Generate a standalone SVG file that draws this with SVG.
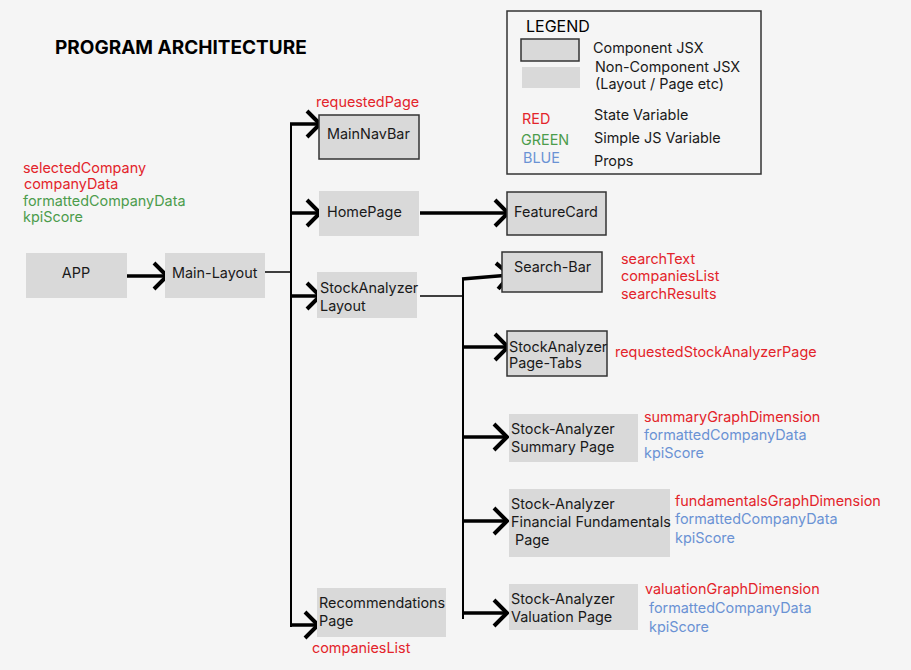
<svg xmlns="http://www.w3.org/2000/svg" width="911" height="670" viewBox="0 0 911 670">
<defs>
<style>
text{font-family:Inter,"Noto Sans","Liberation Sans",sans-serif;font-size:14.4px;fill:#1a1a1a}
.t{font-weight:700;font-size:19px;fill:#000}
.lg{font-size:16px;fill:#000}
.r{fill:#e3242b}
.g{fill:#4c9c4c}
.b{fill:#6a92d4}
.box{fill:#d9d9d9}
.cbox{fill:#d9d9d9;stroke:#333;stroke-width:1.5}
.thick{stroke:#000;stroke-width:3.5;fill:none}
.thin{stroke:#000;stroke-width:1.5;fill:none}
</style>
<marker id="chev" viewBox="0 0 18 30" refX="15" refY="15" markerWidth="18" markerHeight="30" markerUnits="userSpaceOnUse" orient="auto">
<path d="M2,2 L15,15 L2,28" fill="none" stroke="#000" stroke-width="4"/>
</marker>
</defs>
<rect width="911" height="670" fill="#f5f5f5"/>
<text class="t" x="55" y="54">PROGRAM ARCHITECTURE</text>

<g id="legend">
<rect x="507" y="11" width="254" height="163" fill="none" stroke="#333" stroke-width="1.5"/>
<text class="lg" x="526" y="32">LEGEND</text>
<rect class="cbox" x="521" y="39" width="58" height="22"/>
<rect class="box" x="522" y="67" width="58" height="21"/>
<text x="593" y="53">Component JSX</text>
<text x="595" y="72">Non-Component JSX</text>
<text x="595" y="89">(Layout / Page etc)</text>
<text class="r" x="522" y="124">RED</text>
<text x="594" y="120">State Variable</text>
<text class="g" x="521" y="145">GREEN</text>
<text x="594" y="143">Simple JS Variable</text>
<text class="b" x="523" y="163">BLUE</text>
<text x="594" y="166">Props</text>
</g>

<g id="connectors">
<line class="thick" x1="122" y1="276" x2="167" y2="276" marker-end="url(#chev)"/>
<line class="thin" x1="265" y1="272" x2="291" y2="272"/>
<line x1="291" y1="123" x2="291" y2="627" stroke="#000" stroke-width="2"/>
<line class="thick" x1="290" y1="124" x2="320" y2="124" marker-end="url(#chev)"/>
<line class="thick" x1="290" y1="213" x2="320" y2="213" marker-end="url(#chev)"/>
<line class="thick" x1="290" y1="296" x2="320" y2="296" marker-end="url(#chev)"/>
<line class="thick" x1="290" y1="625" x2="318" y2="625" marker-end="url(#chev)"/>
<line class="thick" x1="420" y1="213" x2="508" y2="213" marker-end="url(#chev)"/>
<line class="thin" x1="420" y1="296" x2="463" y2="296"/>
<line x1="463" y1="278" x2="463" y2="619" stroke="#000" stroke-width="2"/>
<line class="thick" x1="462" y1="279" x2="510" y2="275" marker-end="url(#chev)"/>
<line class="thick" x1="462" y1="347" x2="508" y2="347" marker-end="url(#chev)"/>
<line class="thick" x1="462" y1="437" x2="507" y2="437" marker-end="url(#chev)"/>
<line class="thick" x1="462" y1="521" x2="507" y2="521" marker-end="url(#chev)"/>
<line class="thick" x1="462" y1="613" x2="507" y2="613" marker-end="url(#chev)"/>
</g>

<g id="app">
<rect class="box" x="26" y="253" width="101" height="45"/>
<text x="76" y="278" text-anchor="middle">APP</text>
<text class="r" x="23" y="173">selectedCompany</text>
<text class="r" x="24" y="189">companyData</text>
<text class="g" x="23" y="206">formattedCompanyData</text>
<text class="g" x="23" y="222">kpiScore</text>
</g>

<g id="main-layout">
<rect class="box" x="165" y="253" width="100" height="45"/>
<text x="172" y="278">Main-Layout</text>
</g>

<g id="mainnavbar">
<rect class="cbox" x="319" y="115" width="100" height="44"/>
<text x="327" y="139">MainNavBar</text>
<text class="r" x="316" y="107">requestedPage</text>
</g>

<g id="homepage">
<rect class="box" x="319" y="191" width="100" height="45"/>
<text x="327" y="217">HomePage</text>
</g>

<g id="featurecard">
<rect class="cbox" x="507" y="192" width="99" height="43"/>
<text x="514" y="217">FeatureCard</text>
</g>

<g id="stockanalyzer-layout">
<rect class="box" x="317" y="272" width="100" height="46"/>
<text x="320" y="293">StockAnalyzer</text>
<text x="320" y="311">Layout</text>
</g>

<g id="search-bar">
<rect class="cbox" x="502" y="252" width="100" height="40"/>
<text x="514" y="272">Search-Bar</text>
<text class="r" x="621" y="264">searchText</text>
<text class="r" x="621" y="281">companiesList</text>
<text class="r" x="621" y="299">searchResults</text>
</g>

<g id="page-tabs">
<rect class="cbox" x="507" y="331" width="100" height="45"/>
<text x="509" y="352">StockAnalyzer</text>
<text x="509" y="368">Page-Tabs</text>
<text class="r" x="615" y="357">requestedStockAnalyzerPage</text>
</g>

<g id="summary-page">
<rect class="box" x="509" y="414" width="129" height="48"/>
<text x="511" y="434">Stock-Analyzer</text>
<text x="511" y="452">Summary Page</text>
<text class="r" x="644" y="422">summaryGraphDimension</text>
<text class="b" x="644" y="440">formattedCompanyData</text>
<text class="b" x="644" y="458">kpiScore</text>
</g>

<g id="fundamentals-page">
<rect class="box" x="509" y="489" width="161" height="68"/>
<text x="511" y="509">Stock-Analyzer</text>
<text x="511" y="527">Financial Fundamentals</text>
<text x="515" y="545">Page</text>
<text class="r" x="675" y="506">fundamentalsGraphDimension</text>
<text class="b" x="675" y="524">formattedCompanyData</text>
<text class="b" x="675" y="543">kpiScore</text>
</g>

<g id="valuation-page">
<rect class="box" x="509" y="584" width="129" height="46"/>
<text x="511" y="604">Stock-Analyzer</text>
<text x="511" y="622">Valuation Page</text>
<text class="r" x="645" y="594">valuationGraphDimension</text>
<text class="b" x="649" y="613">formattedCompanyData</text>
<text class="b" x="649" y="632">kpiScore</text>
</g>

<g id="recommendations-page">
<rect class="box" x="317" y="588" width="129" height="49"/>
<text x="319" y="608">Recommendations</text>
<text x="319" y="626">Page</text>
<text class="r" x="312" y="653">companiesList</text>
</g>
</svg>
